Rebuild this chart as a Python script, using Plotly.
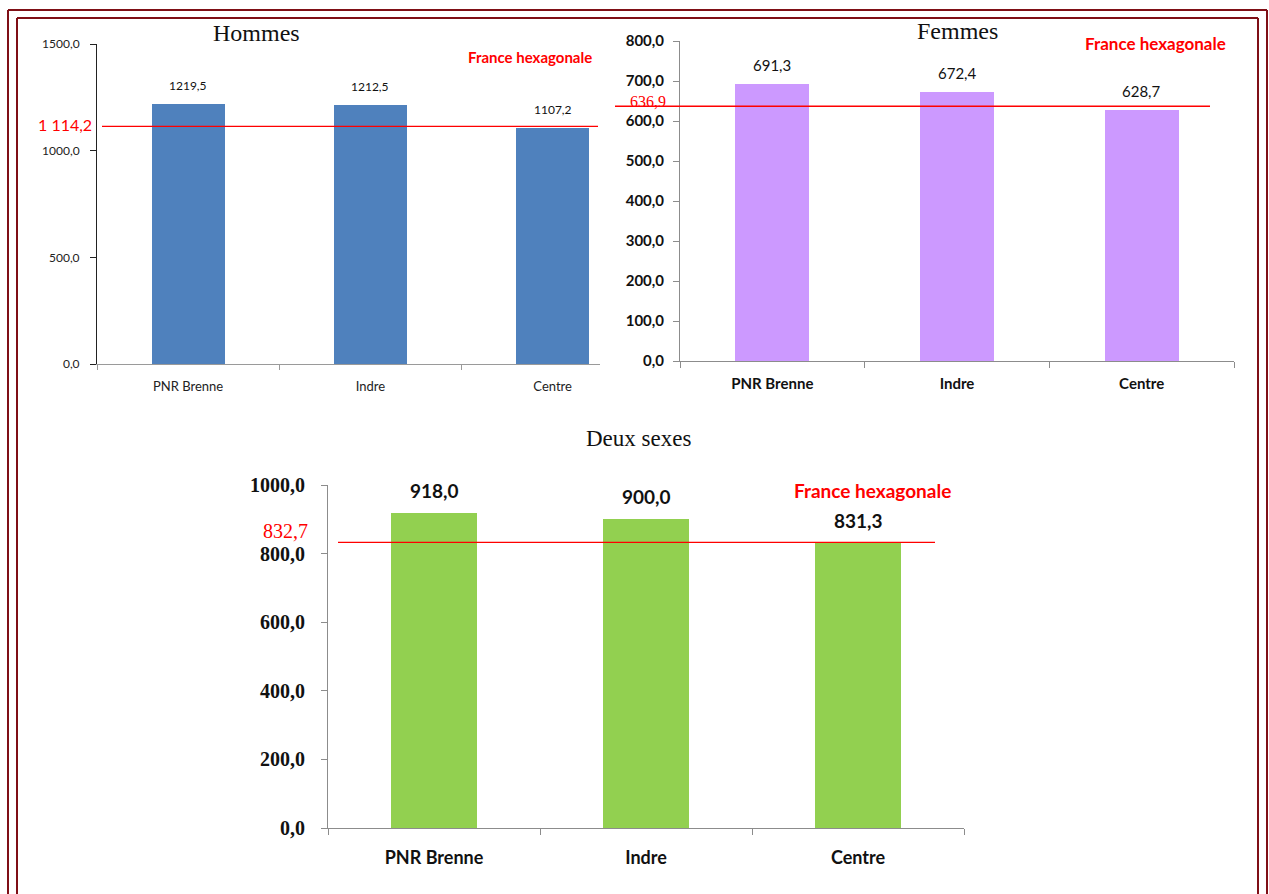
import plotly.graph_objects as go

# Data
categories = ["PNR Brenne", "Indre", "Centre"]
hommes = [1219.5, 1212.5, 1107.2]
femmes = [691.3, 672.4, 628.7]
deux_sexes = [918.0, 900.0, 831.3]
france_hommes = 1114.2
france_femmes = 636.9
france_deux = 832.7
ref_label = "France hexagonale"

ticks_hommes = [0, 500, 1000, 1500]
ticks_femmes = [0, 100, 200, 300, 400, 500, 600, 700, 800]
ticks_deux = [0, 200, 400, 600, 800, 1000]

W, H = 1269, 894


def fr(v, sep_thousands=False):
    s = f"{v:,.1f}" if sep_thousands else f"{v:.1f}"
    return s.replace(",", " ").replace(".", ",")


def px(x):
    return x / W


def py(y):
    return 1 - y / H


SANS = "Lato, Open Sans, sans-serif"
SERIF = "Liberation Serif, DejaVu Serif, serif"
RED = "#FF0000"

fig = go.Figure()

panels = [
    dict(vals=hommes, color="#4F81BD", ax="", width=0.4),
    dict(vals=femmes, color="#CC99FF", ax="2", width=0.4),
    dict(vals=deux_sexes, color="#92D050", ax="3", width=0.41),
]
for p in panels:
    fig.add_trace(go.Bar(
        x=categories, y=p["vals"], width=p["width"],
        marker=dict(color=p["color"], line=dict(width=0)),
        xaxis="x" + p["ax"], yaxis="y" + p["ax"], showlegend=False,
        hoverinfo="x+y",
    ))

layout = dict(
    template="none",
    width=W, height=H, margin=dict(l=0, r=0, t=0, b=0, pad=0, autoexpand=False),
    paper_bgcolor="white", plot_bgcolor="white",
    bargap=0, showlegend=False,
)

common = dict(automargin=False, showgrid=False, zeroline=False, fixedrange=True,
              ticks="outside", showline=True, linewidth=1)

# Hommes axes
layout["xaxis"] = dict(
    common, domain=[px(97), px(600)], range=[-0.5, 2.26], type="category",
    linecolor="#9A9A9A", tickson="boundaries", ticklen=5, tickcolor="#9A9A9A",
    tickfont=dict(family=SANS, size=13, color="#222"), anchor="y",
    ticklabelstandoff=10,
)
layout["yaxis"] = dict(
    common, domain=[py(364), py(44)], range=[0, 1500], tickvals=ticks_hommes,
    ticktext=[fr(v) for v in ticks_hommes], linecolor="#222",
    ticklen=6, tickcolor="#222",
    tickfont=dict(family=SANS, size=12, color="#222"),
    anchor="x", ticklabelstandoff=8,
)
# Femmes axes
layout["xaxis2"] = dict(
    common, domain=[px(680), px(1234)], range=[-0.5, 2.5], type="category",
    linecolor="#8C8C8C", tickson="boundaries", ticklen=6, tickcolor="#8C8C8C",
    tickfont=dict(family=SANS, size=15, color="#111", weight="bold"), anchor="y2",
    ticklabelstandoff=9,
)
layout["yaxis2"] = dict(
    common, domain=[py(361), py(41)], range=[0, 800], tickvals=ticks_femmes,
    ticktext=[fr(v) for v in ticks_femmes], linecolor="#8C8C8C",
    ticklen=6, tickcolor="#8C8C8C",
    tickfont=dict(family=SANS, size=15, color="#111", weight="bold"),
    anchor="x2", ticklabelstandoff=6,
)
# Deux sexes axes
layout["xaxis3"] = dict(
    common, domain=[px(328), px(964)], range=[-0.5, 2.5], type="category",
    linecolor="#8C8C8C", tickson="boundaries", ticklen=6, tickcolor="#8C8C8C",
    tickfont=dict(family=SANS, size=18, color="#111", weight="bold"), anchor="y3",
    ticklabelstandoff=13,
)
layout["yaxis3"] = dict(
    common, domain=[py(828), py(485)], range=[0, 1000], tickvals=ticks_deux,
    ticktext=[fr(v) for v in ticks_deux], linecolor="#8C8C8C",
    ticklen=6, tickcolor="#8C8C8C",
    tickfont=dict(family=SERIF, size=20, color="#111", weight="bold"),
    anchor="x3", ticklabelstandoff=12,
)
fig.update_layout(**layout)

ann = []
# Value labels above bars
for vals, ax, size, shift, weight in [
    (hommes, "", 12, 9, "normal"),
    (femmes, "2", 15, 8, "normal"),
    (deux_sexes, "3", 19, 9, "bold"),
]:
    for c, v in zip(categories, vals):
        ann.append(dict(x=c, y=v, xref="x" + ax, yref="y" + ax, text=fr(v),
                        showarrow=False, yanchor="bottom", yshift=shift,
                        font=dict(family=SANS, size=size, color="#111", weight=weight)))

# Panel titles
for text, x, y, size in [("Hommes", 256, 33, 24), ("Femmes", 957, 31, 24),
                         ("Deux sexes", 639, 438, 23)]:
    ann.append(dict(x=px(x), y=py(y), xref="paper", yref="paper", text=text,
                    showarrow=False, xanchor="center", yanchor="middle",
                    font=dict(family=SERIF, size=size, color="#111")))

# Reference labels
for x, y, size in [(530, 57, 15), (1155, 44, 17), (872, 491, 19)]:
    ann.append(dict(x=px(x), y=py(y), xref="paper", yref="paper", text=ref_label,
                    showarrow=False, xanchor="center", yanchor="middle",
                    font=dict(family=SANS, size=size, color=RED, weight="bold")))

# Reference values next to the y axes
for v, ax, xr, size, fam, thou, shift in [
    (france_hommes, "", 94, 16, SANS, True, 2),
    (france_femmes, "2", 668, 16, SERIF, False, 5),
    (france_deux, "3", 310, 20, SERIF, False, 11),
]:
    ann.append(dict(x=px(xr), y=v, xref="paper", yref="y" + ax, text=fr(v, thou),
                    showarrow=False, xanchor="right", yanchor="middle", yshift=shift,
                    font=dict(family=fam, size=size, color=RED)))

shapes = []
# Reference lines
for v, ax, x0, x1 in [
    (france_hommes, "", 102, 598),
    (france_femmes, "2", 615, 1210),
    (france_deux, "3", 338, 935),
]:
    shapes.append(dict(type="line", xref="paper", yref="y" + ax, x0=px(x0), x1=px(x1),
                       y0=v, y1=v, line=dict(color=RED, width=1.3)))

# Double frame
BORDER = "#7F0F16"
for l, t, r in [(8, 10, 1267), (17, 18, 1258)]:
    for (xa, ya, xb, yb) in [(l, t, r, t), (l, t, l, H), (r, t, r, H)]:
        shapes.append(dict(type="line", xref="paper", yref="paper",
                           x0=px(xa), y0=py(ya), x1=px(xb), y1=py(yb),
                           line=dict(color=BORDER, width=2)))

fig.update_layout(annotations=ann, shapes=shapes)
fig.write_html("out.html")
